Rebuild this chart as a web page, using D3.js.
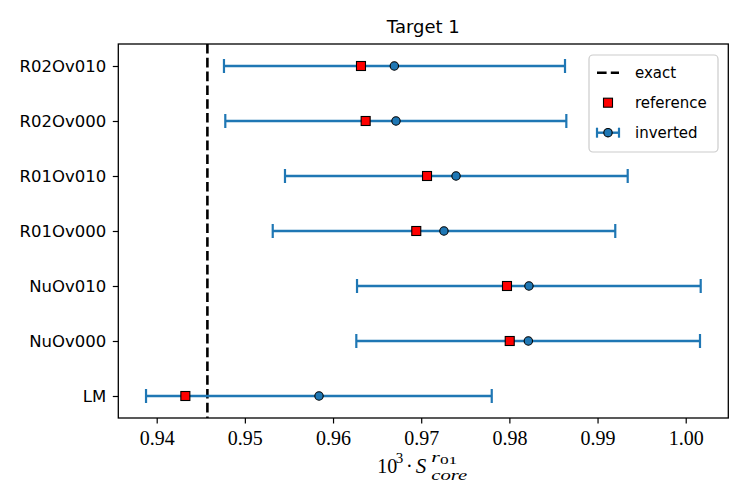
<!DOCTYPE html>
<html>
<head>
<meta charset="utf-8">
<script src="https://cdn.jsdelivr.net/npm/d3@7"></script>
<style>
  html, body { margin: 0; padding: 0; background: #fff; }
  svg { display: block; }
</style>
</head>
<body>
<svg id="chart" width="747" height="498"></svg>
<script>
const categories = ["LM", "NuOv000", "NuOv010", "R01Ov000", "R01Ov010", "R02Ov000", "R02Ov010"];
const referenceValues = [0.94325, 0.98004, 0.97973, 0.96944, 0.97066, 0.96370, 0.96317];
const invertedValues  = [0.95841, 0.98215, 0.98222, 0.97258, 0.97395, 0.96714, 0.96695];
const lowerValues     = [0.93879, 0.96264, 0.96272, 0.95316, 0.95455, 0.94778, 0.94763];
const upperValues     = [0.97800, 1.00162, 1.00170, 0.99201, 0.99342, 0.98646, 0.98631];
const exactValue = 0.94575;
const xTicks = [0.94, 0.95, 0.96, 0.97, 0.98, 0.99, 1.00];
const legendLabels = ["exact", "reference", "inverted"];
const titleText = "Target 1";

const W = 747, H = 498;
const margin = { left: 118.3, right: 18.7, top: 44, bottom: 80 };
const svg = d3.select("#chart");
const blue = "#1f77b4";

const x = d3.scaleLinear().domain([0.935645, 1.00483]).range([margin.left, W - margin.right]);
const y = d3.scalePoint().domain(categories).range([H - margin.bottom, margin.top]).padding(0.4);

const rows = categories.map((c, i) => ({
  cat: c, ref: referenceValues[i], inv: invertedValues[i], lo: lowerValues[i], hi: upperValues[i]
}));

// Axes
const xAxis = svg.append("g")
  .attr("transform", `translate(0,${H - margin.bottom})`)
  .call(d3.axisBottom(x).tickValues(xTicks).tickFormat(d3.format(".2f")).tickSize(5.5).tickPadding(7.5));
xAxis.select(".domain").remove();
xAxis.selectAll("line").attr("stroke", "#000").attr("stroke-width", 1.2);
xAxis.selectAll("text").attr("font-family", "'Liberation Serif', serif").attr("font-size", 20).attr("fill", "#000");

const yAxis = svg.append("g")
  .attr("transform", `translate(${margin.left},0)`)
  .call(d3.axisLeft(y).tickSize(5.5).tickPadding(6.5));
yAxis.select(".domain").remove();
yAxis.selectAll("line").attr("stroke", "#000").attr("stroke-width", 1.2);
yAxis.selectAll("text").attr("font-family", "'DejaVu Sans', sans-serif").attr("font-size", 16.5).attr("fill", "#000");

// Exact line
svg.append("line")
  .attr("x1", x(exactValue)).attr("x2", x(exactValue))
  .attr("y1", margin.top).attr("y2", H - margin.bottom)
  .attr("stroke", "#000").attr("stroke-width", 2.6).attr("stroke-dasharray", "9.6,4.2");

// Error bars
const eb = svg.append("g");
eb.selectAll("line.bar").data(rows).join("line").attr("class", "bar")
  .attr("x1", d => x(d.lo)).attr("x2", d => x(d.hi))
  .attr("y1", d => y(d.cat)).attr("y2", d => y(d.cat))
  .attr("stroke", blue).attr("stroke-width", 2.4);
["lo", "hi"].forEach(k => {
  eb.selectAll("line.cap" + k).data(rows).join("line").attr("class", "cap" + k)
    .attr("x1", d => x(d[k])).attr("x2", d => x(d[k]))
    .attr("y1", d => y(d.cat) - 7).attr("y2", d => y(d.cat) + 7)
    .attr("stroke", blue).attr("stroke-width", 2.2);
});

// Reference squares
const sq = 9;
svg.append("g").selectAll("rect").data(rows).join("rect")
  .attr("x", d => x(d.ref) - sq / 2).attr("y", d => y(d.cat) - sq / 2)
  .attr("width", sq).attr("height", sq)
  .attr("fill", "red").attr("stroke", "#000").attr("stroke-width", 1.1);

// Inverted circles
svg.append("g").selectAll("circle").data(rows).join("circle")
  .attr("cx", d => x(d.inv)).attr("cy", d => y(d.cat)).attr("r", 4.2)
  .attr("fill", blue).attr("stroke", "#000").attr("stroke-width", 1.1);

// Frame
svg.append("rect")
  .attr("x", margin.left).attr("y", margin.top)
  .attr("width", W - margin.left - margin.right).attr("height", H - margin.top - margin.bottom)
  .attr("fill", "none").attr("stroke", "#000").attr("stroke-width", 1.3);

// Title
svg.append("text").attr("x", (margin.left + W - margin.right) / 2).attr("y", 33)
  .attr("text-anchor", "middle").attr("font-family", "'DejaVu Sans', sans-serif")
  .attr("font-size", 18).attr("fill", "#000").text(titleText);

// X label: 10^3 · S_core^{r01}
const cx = (margin.left + W - margin.right) / 2;
const serif = "'Liberation Serif', serif";
const xl = svg.append("g").attr("font-family", serif).attr("fill", "#000");
xl.append("text").attr("x", cx - 46).attr("y", 473.3).attr("font-size", 20).text("10");
xl.append("text").attr("x", cx - 27.5).attr("y", 463).attr("font-size", 15).text("3");
xl.append("text").attr("x", cx - 14).attr("y", 473.3).attr("font-size", 20).attr("text-anchor", "middle").text("·");
xl.append("text").attr("x", cx - 7.5).attr("y", 473.3).attr("font-size", 21).attr("font-style", "italic").text("S");
const sup = xl.append("text").attr("x", cx + 8).attr("y", 462).attr("font-size", 14)
  .attr("textLength", 26).attr("lengthAdjust", "spacingAndGlyphs");
sup.append("tspan").attr("font-style", "italic").text("r");
sup.append("tspan").attr("font-size", 11).attr("dy", 1.5).text("01");
xl.append("text").attr("x", cx + 8).attr("y", 480).attr("font-size", 15).attr("font-style", "italic")
  .attr("textLength", 36).attr("lengthAdjust", "spacingAndGlyphs").text("core");

// Legend
const lg = svg.append("g");
lg.append("rect").attr("x", 589).attr("y", 55).attr("width", 129).attr("height", 97)
  .attr("rx", 4).attr("fill", "#fff").attr("fill-opacity", 0.8)
  .attr("stroke", "#cccccc").attr("stroke-width", 1.2);
const ly = [72.7, 102.7, 132.7];
const hx0 = 597, hx1 = 619, hxm = 608;
lg.append("line").attr("x1", hx0).attr("x2", hx1).attr("y1", ly[0]).attr("y2", ly[0])
  .attr("stroke", "#000").attr("stroke-width", 2.6).attr("stroke-dasharray", "9.6,4.2");
lg.append("rect").attr("x", hxm - sq / 2).attr("y", ly[1] - sq / 2).attr("width", sq).attr("height", sq)
  .attr("fill", "red").attr("stroke", "#000").attr("stroke-width", 1.1);
lg.append("line").attr("x1", hx0).attr("x2", hx1).attr("y1", ly[2]).attr("y2", ly[2])
  .attr("stroke", blue).attr("stroke-width", 2.4);
[hx0, hx1].forEach(hx => lg.append("line").attr("x1", hx).attr("x2", hx)
  .attr("y1", ly[2] - 5).attr("y2", ly[2] + 5).attr("stroke", blue).attr("stroke-width", 2.2));
lg.append("circle").attr("cx", hxm).attr("cy", ly[2]).attr("r", 4.2)
  .attr("fill", blue).attr("stroke", "#000").attr("stroke-width", 1.1);
legendLabels.forEach((t, i) => lg.append("text").attr("x", 635).attr("y", ly[i])
  .attr("dy", "0.35em").attr("font-family", "'DejaVu Sans', sans-serif").attr("font-size", 15)
  .attr("fill", "#000").text(t));
</script>
</body>
</html>
